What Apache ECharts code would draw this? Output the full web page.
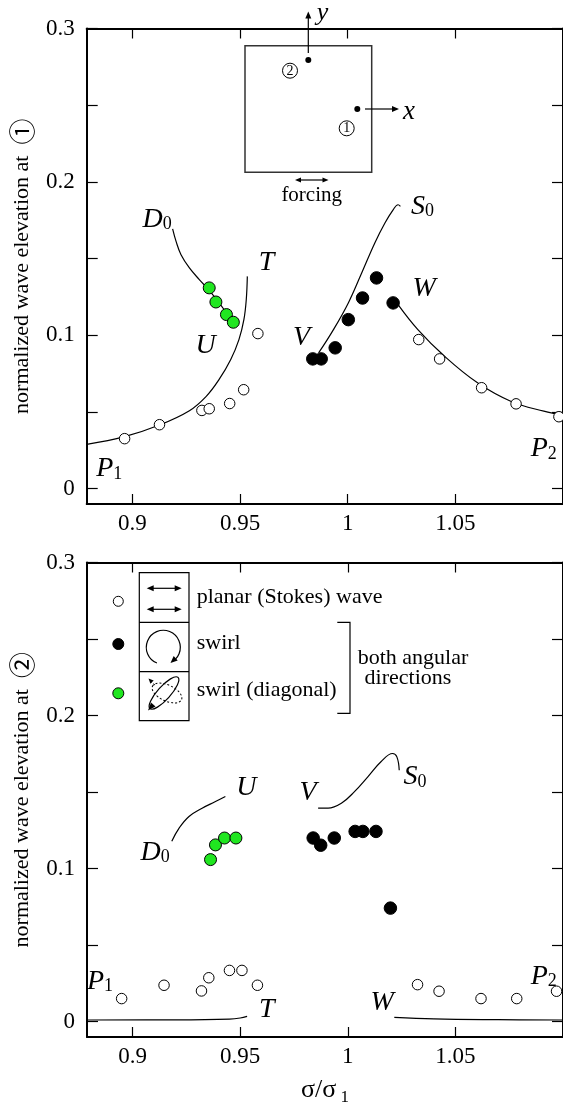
<!DOCTYPE html>
<html>
<head>
<meta charset="utf-8">
<script src="https://cdn.jsdelivr.net/npm/echarts@6/dist/echarts.min.js"></script>
<style>
html, body { margin: 0; padding: 0; background: #fff; }
#chart { width: 563px; height: 1107px; }
</style>
</head>
<body>
<div id="chart"></div>
<script>
var FONT = 'Liberation Serif';
var GREEN = '#20e620';

// ticks
var xTicks = [0.9, 0.95, 1, 1.05];
var yTicks = [0, 0.05, 0.1, 0.15, 0.2, 0.25, 0.3];
var yTickLabels = [0, 0.1, 0.2, 0.3];

// top panel: elevation at point 1
var topPlanar = [[0.8964, 0.0326], [0.9126, 0.0417], [0.9323, 0.051], [0.9357, 0.0521], [0.9452, 0.0555], [0.9517, 0.0645], [0.9583, 0.1011],
                 [1.033, 0.0972], [1.0427, 0.0846], [1.0622, 0.0658], [1.0782, 0.0553], [1.0981, 0.0469]];
var topSwirl = [[0.9838, 0.0846], [0.9877, 0.0846], [0.9942, 0.0918], [1.0003, 0.1102], [1.0069, 0.1243], [1.0134, 0.1374], [1.0211, 0.1211]];
var topDiag = [[0.9357, 0.1309], [0.9388, 0.1217], [0.9437, 0.1135], [0.9469, 0.1085]];
var topCurveP1T = [[0.8788, 0.0289], [0.8964, 0.0339], [0.9126, 0.0415], [0.9265, 0.0508], [0.9342, 0.06], [0.9403, 0.0712],
                   [0.9457, 0.0842], [0.9495, 0.0972], [0.9518, 0.1102], [0.9529, 0.1232], [0.9534, 0.1384]];
var topCurveD0 = [[0.9187, 0.1693], [0.9203, 0.1612], [0.9226, 0.1525], [0.9265, 0.1439], [0.9311, 0.1363], [0.9357, 0.1293],
                  [0.9403, 0.1211], [0.9449, 0.1124], [0.948, 0.107]];
var topCurveVS0 = [[0.9865, 0.0885], [0.9934, 0.1037], [1.0003, 0.1211], [1.0065, 0.1406], [1.0126, 0.1602], [1.0173, 0.1732],
                   [1.0211, 0.1818], [1.0234, 0.1851], [1.0245, 0.184]];
var topCurveWP2 = [[1.0234, 0.12], [1.0326, 0.1037], [1.045, 0.0863], [1.0603, 0.069], [1.0757, 0.057], [1.0911, 0.0505], [1.1, 0.048]];
var topLabelText = ['D0', 'T', 'U', 'V', 'S0', 'W', 'P1', 'P2'];
var topLabelPos = [[0.9117, 0.175], [0.9626, 0.1471], [0.9342, 0.0928], [0.9788, 0.0983], [1.035, 0.1838], [1.0357, 0.1298],
                   [0.8895, 0.0126], [1.0913, 0.0256]];

// bottom panel: elevation at point 2
var botPlanar = [[0.8949, 0.0151], [0.9146, 0.0238], [0.932, 0.0201], [0.9354, 0.0287], [0.945, 0.0335], [0.9508, 0.0335], [0.958, 0.0238],
                 [1.0324, 0.0242], [1.0424, 0.0199], [1.0619, 0.0151], [1.0785, 0.0151], [1.097, 0.0199]];
var botSwirl = [[0.9839, 0.12], [0.9874, 0.1153], [0.9937, 0.12], [1.0034, 0.1243], [1.007, 0.1243], [1.0131, 0.1243], [1.0198, 0.0742]];
var botDiag = [[0.9362, 0.1059], [0.9385, 0.1155], [0.9427, 0.12], [0.948, 0.12]];
var botCurveD0U = [[0.9182, 0.1179], [0.9216, 0.1265], [0.9262, 0.1341], [0.9323, 0.1395], [0.9385, 0.1438], [0.9431, 0.1471]];
var botCurveVS0 = [[0.9862, 0.1395], [0.9908, 0.1395], [0.997, 0.1427], [1.0031, 0.1503], [1.0093, 0.16], [1.0154, 0.1698],
                   [1.0208, 0.1752], [1.0228, 0.173], [1.0239, 0.1643]];
var botCurveP1T = [[0.8788, 0.0011], [0.92, 0.0012], [0.945, 0.0017], [0.95, 0.0024], [0.9532, 0.0035]];
var botCurveWP2 = [[1.0216, 0.0028], [1.04, 0.0018], [1.07, 0.0013], [1.1, 0.0011]];
var botLabelText = ['U', 'D0', 'V', 'S0', 'P1', 'T', 'W', 'P2'];
var botLabelPos = [[0.9531, 0.1524], [0.9107, 0.1103], [0.9817, 0.1492], [1.0315, 0.1596], [0.8851, 0.026], [0.9626, 0.0076],
                   [1.0162, 0.0119], [1.0913, 0.0292]];

var chart = echarts.init(document.getElementById('chart'));

function fmt(v) { return String(parseFloat(v.toFixed(2))); }

function xAx(g, pos, name) {
    return {
        gridIndex: g, type: 'value', min: 0.8788, max: 1.1, position: pos,
        name: name || '', nameLocation: 'middle', nameGap: 38,
        nameTextStyle: {
            color: '#000', fontFamily: FONT,
            rich: { a: { fontFamily: FONT, fontSize: 26, color: '#000' },
                    b: { fontFamily: FONT, fontSize: 17, color: '#000', verticalAlign: 'bottom', padding: [14, 0, 0, 0] } }
        },
        axisLine: { show: true, onZero: false, lineStyle: { color: '#000', width: 2 } },
        axisTick: { show: true, inside: true, length: 10, customValues: xTicks, lineStyle: { color: '#000', width: 1.2 } },
        axisLabel: { show: pos === 'bottom', customValues: xTicks, formatter: fmt, color: '#000', fontFamily: FONT, fontSize: 23, margin: 8 },
        splitLine: { show: false }
    };
}

function yAx(g, pos, name) {
    return {
        gridIndex: g, type: 'value', min: -0.01, max: 0.3, position: pos,
        name: name || '', nameLocation: 'middle', nameGap: 47, nameRotate: 90,
        nameTextStyle: {
            color: '#000', fontFamily: FONT, fontSize: 22,
            rich: { c: { fontFamily: 'Noto Sans CJK JP', fontSize: 26, color: '#000' } }
        },
        axisLine: { show: true, onZero: false, lineStyle: { color: '#000', width: 2 } },
        axisTick: { show: true, inside: true, length: 11, customValues: yTicks, lineStyle: { color: '#000', width: 1.2 } },
        axisLabel: { show: pos === 'left', customValues: yTickLabels, formatter: fmt, color: '#000', fontFamily: FONT, fontSize: 23, margin: 12 },
        splitLine: { show: false }
    };
}

function curve(data, ax) {
    return { type: 'line', xAxisIndex: ax, yAxisIndex: ax, data: data, smooth: 0.4, showSymbol: false, silent: true,
             lineStyle: { color: '#000', width: 1.2 }, z: 2 };
}

function dots(data, ax, fill, size) {
    return { type: 'scatter', xAxisIndex: ax, yAxisIndex: ax, data: data, symbol: 'circle', symbolSize: size, silent: true,
             itemStyle: { color: fill, borderColor: '#000', borderWidth: 1, opacity: 1 }, z: 3 };
}

function letters(pos, text, ax) {
    return {
        type: 'scatter', xAxisIndex: ax, yAxisIndex: ax, symbolSize: 1, silent: true, z: 4,
        itemStyle: { color: 'rgba(0,0,0,0)' },
        data: pos.map(function (p, i) { return { value: p, name: text[i] }; }),
        label: {
            show: true, position: [0, 0], align: 'center', verticalAlign: 'middle', opacity: 1,
            color: '#000', textBorderWidth: 0,
            formatter: function (p) {
                var s = '{m|' + p.name.charAt(0) + '}';
                if (p.name.length > 1) s += '{s|' + p.name.slice(1) + '}';
                return s;
            },
            rich: {
                m: { fontFamily: FONT, fontStyle: 'italic', fontSize: 28, color: '#000', lineHeight: 28 },
                s: { fontFamily: FONT, fontSize: 18, color: '#000', lineHeight: 18, verticalAlign: 'bottom', padding: [22, 0, 0, 0] }
            }
        }
    };
}

function head(x, y, ang, len, w, dash) {
    var c = Math.cos(ang), s = Math.sin(ang);
    var bx = x - len * c, by = y - len * s;
    return { type: 'polygon', shape: { points: [[x, y], [bx - w * s, by + w * c], [bx + w * s, by - w * c]] },
             style: { fill: '#000', stroke: '#000', lineWidth: dash ? 0.5 : 0 } };
}

function ln(x1, y1, x2, y2, w, dash) {
    return { type: 'line', shape: { x1: x1, y1: y1, x2: x2, y2: y2 },
             style: { stroke: '#000', lineWidth: w || 1.2, lineDash: dash || null } };
}

function txt(x, y, t, size, align, italic) {
    return { type: 'text', x: x, y: y,
             style: { text: t, fontFamily: FONT, fontSize: size, fontStyle: italic ? 'italic' : 'normal', fill: '#000',
                      align: align || 'center', verticalAlign: 'middle' } };
}

var D = Math.PI / 180;
var graphics = [
    // inset: square tank with probes
    { type: 'rect', shape: { x: 245, y: 45.7, width: 126.7, height: 126.6 }, style: { fill: 'none', stroke: '#333', lineWidth: 1.5 } },
    { type: 'circle', shape: { cx: 308.3, cy: 60, r: 3 }, style: { fill: '#000' } },
    { type: 'circle', shape: { cx: 357.3, cy: 109, r: 3 }, style: { fill: '#000' } },
    ln(308.3, 53, 308.3, 17, 1.2), head(308.3, 11.5, -90 * D, 7, 3),
    txt(322.5, 13, 'y', 26, 'center', true),
    ln(365, 109, 393, 109, 1.2), head(399, 109, 0, 7, 3),
    txt(409, 112, 'x', 27, 'center', true),
    { type: 'circle', shape: { cx: 290, cy: 70.7, r: 7.5 }, style: { fill: 'none', stroke: '#000', lineWidth: 1 } },
    txt(290, 71.2, '2', 14),
    { type: 'circle', shape: { cx: 346.7, cy: 128.3, r: 7.5 }, style: { fill: 'none', stroke: '#000', lineWidth: 1 } },
    txt(346.7, 128.8, '1', 14),
    ln(300, 180, 323.5, 180, 1.2), head(295, 180, 180 * D, 6, 2.6), head(328.5, 180, 0, 6, 2.6),
    txt(311.7, 195, 'forcing', 21),

    // legend in lower panel
    { type: 'circle', shape: { cx: 118.3, cy: 601.3, r: 5 }, style: { fill: '#fff', stroke: '#000', lineWidth: 1 } },
    { type: 'circle', shape: { cx: 118.3, cy: 644, r: 5.5 }, style: { fill: '#000', stroke: '#000', lineWidth: 1 } },
    { type: 'circle', shape: { cx: 118.3, cy: 693.3, r: 5.5 }, style: { fill: GREEN, stroke: '#000', lineWidth: 1 } },
    { type: 'rect', shape: { x: 139.3, y: 572.7, width: 49.7, height: 148 }, style: { fill: 'none', stroke: '#000', lineWidth: 1.2 } },
    ln(139.3, 622.3, 189, 622.3, 1.2), ln(139.3, 671.7, 189, 671.7, 1.2),
    ln(152, 588.3, 176.5, 588.3, 1.2), head(146.7, 588.3, 180 * D, 7, 3), head(181.7, 588.3, 0, 7, 3),
    ln(152, 609.3, 176.5, 609.3, 1.2), head(146.7, 609.3, 180 * D, 7, 3), head(181.7, 609.3, 0, 7, 3),
    { type: 'arc', shape: { cx: 163.3, cy: 647.3, r: 17, startAngle: 112 * D, endAngle: 404 * D, clockwise: true },
      style: { fill: 'none', stroke: '#000', lineWidth: 1.2 } },
    head(170.5, 663, 138 * D, 7, 3),
    { type: 'ellipse', x: 167, y: 693, rotation: -25 * D, shape: { cx: 0, cy: 0, rx: 16, ry: 8 },
      style: { fill: 'none', stroke: '#000', lineWidth: 1, lineDash: [2, 2] } },
    { type: 'ellipse', x: 164, y: 693, rotation: 48 * D, shape: { cx: 0, cy: 0, rx: 21, ry: 6.5 },
      style: { fill: 'none', stroke: '#000', lineWidth: 1.2 } },
    head(148, 710.5, 131 * D, 8, 3),
    ln(150.5, 681, 156, 686, 1, [2, 2]), head(148.5, 678.5, 225 * D, 5, 2.3),
    txt(196.7, 597, 'planar (Stokes) wave', 22, 'left'),
    txt(196.7, 643, 'swirl', 22, 'left'),
    txt(196.7, 690.5, 'swirl (diagonal)', 22, 'left'),
    { type: 'polyline', shape: { points: [[337.3, 622.3], [350, 622.3], [350, 713.3], [337.3, 713.3]] },
      style: { fill: 'none', stroke: '#000', lineWidth: 1.2 } },
    txt(413, 658, 'both angular', 22),
    txt(408, 678, 'directions', 22)
];

var option = {
    animation: false,
    backgroundColor: '#fff',
    grid: [
        { left: 86.7, top: 28.5, width: 479.2, height: 475.5 },
        { left: 87, top: 562.5, width: 479.2, height: 476.5 }
    ],
    xAxis: [xAx(0, 'bottom'), xAx(0, 'top'), xAx(1, 'bottom', '{a|σ/σ}{b| 1}'), xAx(1, 'top')],
    yAxis: [yAx(0, 'left', 'normalized wave elevation at  {c|①}'), yAx(0, 'right'),
            yAx(1, 'left', 'normalized wave elevation at  {c|②}'), yAx(1, 'right')],
    series: [
        curve(topCurveP1T, 0), curve(topCurveD0, 0), curve(topCurveVS0, 0), curve(topCurveWP2, 0),
        dots(topPlanar, 0, '#fff', 10.5), dots(topSwirl, 0, '#000', 12.5), dots(topDiag, 0, GREEN, 12),
        letters(topLabelPos, topLabelText, 0),
        curve(botCurveD0U, 2), curve(botCurveVS0, 2), curve(botCurveP1T, 2), curve(botCurveWP2, 2),
        dots(botPlanar, 2, '#fff', 10.5), dots(botSwirl, 2, '#000', 12.5), dots(botDiag, 2, GREEN, 12),
        letters(botLabelPos, botLabelText, 2)
    ],
    graphic: graphics
};

chart.setOption(option);
</script>
</body>
</html>
